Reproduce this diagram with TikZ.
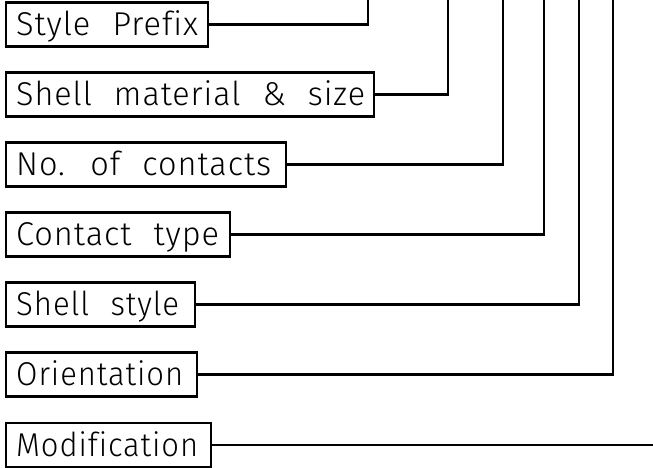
\documentclass[tikz,border=0pt]{standalone}
\usepackage{fontspec}
\usepackage{graphicx}
\newfontfamily\lblfamily{Fira Sans Light}[LetterSpace=3,WordSpace=2.2,Ligatures=NoCommon]
\newcommand{\lblfont}{\lblfamily\fontsize{33}{36}\selectfont}
% \lbltext{box width}{text width}{text}
\newcommand{\lbltext}[3]{\makebox[#1][l]{\hspace{10.5pt}\resizebox{#2}{\height}{#3}}}
\tikzset{
  lbox/.style={draw, line width=2.4pt, rectangle, anchor=west, inner xsep=0pt,
    inner ysep=0pt, minimum height=44pt, text height=22.5pt, text depth=0pt,
    font=\lblfont},
  conn/.style={line width=2.4pt, line cap=rect},
}
\begin{document}
\begin{tikzpicture}[x=1pt,y=-1pt]
\useasboundingbox (0,0) rectangle (653,468);
\node[lbox] (b1) at (4.5,24.5)  {\lbltext{202.5pt}{182pt}{Style Prefix}};
\node[lbox] (b2) at (4.5,94.5)  {\lbltext{368.5pt}{349pt}{Shell material \& size}};
\node[lbox] (b3) at (4.5,164.5) {\lbltext{280.5pt}{255pt}{No. of contacts}};
\node[lbox] (b4) at (4.5,234.5) {\lbltext{224.5pt}{203pt}{Contact type}};
\node[lbox] (b5) at (4.5,304.5) {\lbltext{189.5pt}{163pt}{Shell style}};
\node[lbox] (b6) at (4.5,374.5) {\lbltext{191.5pt}{167pt}{Orientation}};
\node[lbox] (b7) at (4.5,445)   {\lbltext{205pt}{182pt}{Modification}};
\coordinate (t1) at (368,-2);
\coordinate (t2) at (448,-2);
\coordinate (t3) at (503,-2);
\coordinate (t4) at (544,-2);
\coordinate (t5) at (579,-2);
\coordinate (t6) at (613,-2);
\coordinate (t7) at (656,445);
\draw[conn] (b1.east) -| (t1);
\draw[conn] (b2.east) -| (t2);
\draw[conn] (b3.east) -| (t3);
\draw[conn] (b4.east) -| (t4);
\draw[conn] (b5.east) -| (t5);
\draw[conn] (b6.east) -| (t6);
\draw[conn] (b7.east) -- (t7);
\end{tikzpicture}
\end{document}
